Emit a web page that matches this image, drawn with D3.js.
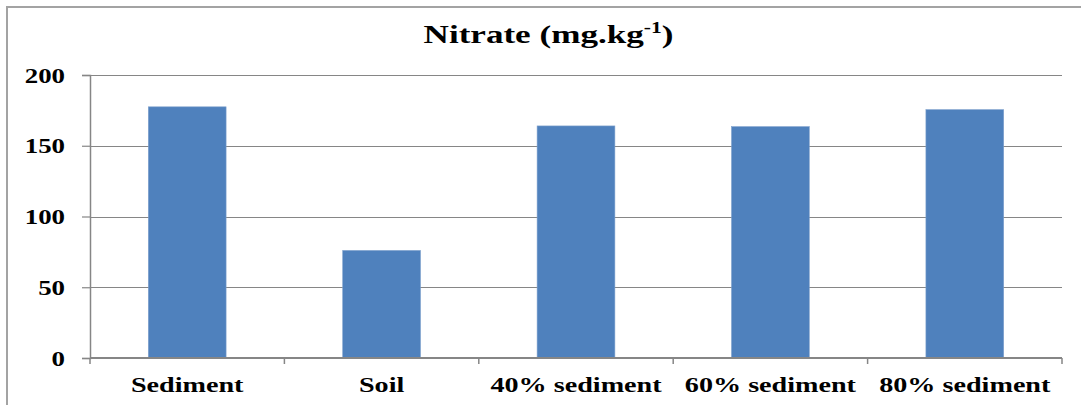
<!DOCTYPE html>
<html>
<head>
<meta charset="utf-8">
<script src="https://cdn.jsdelivr.net/npm/d3@7"></script>
<style>
  body { margin: 0; background: #fff; }
  svg { display: block; }
  text { font-family: "Liberation Serif", "Times New Roman", serif; font-weight: bold; fill: #000; }
</style>
</head>
<body>
<svg id="chart" width="1081" height="405"></svg>
<script>
// Nitrate content per substrate
const categories = ["Sediment", "Soil", "40% sediment", "60% sediment", "80% sediment"];
const nitrate = [177.5, 76, 164, 163.5, 175.5];
const yTicks = [0, 50, 100, 150, 200];
const titleText = "Nitrate (mg.kg";
const titleSup = "-1";
const titleEnd = ")";

const W = 1081, H = 405;
const frame = { left: 7, top: 7, right: 1090 };
const plot = { left: 90, right: 1062, top: 75, bottom: 358 };
const labelStretch = 1.28;   // horizontal widening of axis text
const titleStretch = 1.35;   // horizontal widening of title text
const gridColor = "#868686";

const svg = d3.select("#chart");

// chart frame (top and left edges)
svg.append("path")
  .attr("d", `M${frame.left},${H} V${frame.top} H${W}`)
  .attr("fill", "none")
  .attr("stroke", "#a3a3a3")
  .attr("stroke-width", 2);

const x = d3.scaleBand()
  .domain(categories)
  .range([plot.left, plot.right])
  .paddingInner(0.6)
  .paddingOuter(0.3);

const y = d3.scaleLinear()
  .domain([0, 200])
  .range([plot.bottom, plot.top]);

// horizontal gridlines
svg.append("g")
  .selectAll("line")
  .data(yTicks.filter(d => d > 0))
  .join("line")
  .attr("x1", plot.left).attr("x2", plot.right)
  .attr("y1", d => Math.round(y(d)) + 0.5).attr("y2", d => Math.round(y(d)) + 0.5)
  .attr("stroke", gridColor)
  .attr("stroke-width", 1.2);

// bars
svg.append("g")
  .selectAll("rect")
  .data(nitrate)
  .join("rect")
  .attr("x", (d, i) => x(categories[i]))
  .attr("width", x.bandwidth())
  .attr("y", d => y(d))
  .attr("height", d => y(0) - y(d))
  .attr("fill", "#4f81bd")
  .attr("stroke", "#7c9fcc")
  .attr("stroke-width", 0.6);

// y axis
const yAxis = svg.append("g")
  .attr("transform", `translate(${plot.left},0)`)
  .call(d3.axisLeft(y).tickValues(yTicks).tickSize(8).tickPadding(0).tickFormat(d3.format("d")));
yAxis.select(".domain").attr("stroke", gridColor).attr("stroke-width", 1.5);
yAxis.selectAll(".tick line").attr("stroke", gridColor).attr("stroke-width", 1.2);
yAxis.selectAll(".tick text")
  .attr("font-family", null)
  .attr("font-size", null)
  .style("font-size", "21px")
  .attr("x", -25 / labelStretch)
  .attr("dy", "0.34em")
  .attr("transform", `scale(${labelStretch},1)`);

// x axis baseline and category dividers
const xAxis = svg.append("g");
xAxis.append("line")
  .attr("x1", plot.left).attr("x2", plot.right)
  .attr("y1", plot.bottom).attr("y2", plot.bottom)
  .attr("stroke", gridColor).attr("stroke-width", 2);
const bounds = categories.map(c => x(c) - (x.step() - x.bandwidth()) / 2);
bounds[0] = plot.left;
bounds.push(plot.right);
xAxis.selectAll("line.div")
  .data(bounds)
  .join("line")
  .attr("class", "div")
  .attr("x1", d => d).attr("x2", d => d)
  .attr("y1", plot.bottom).attr("y2", plot.bottom + 6)
  .attr("stroke", gridColor).attr("stroke-width", 1.5);

xAxis.selectAll("text")
  .data(categories)
  .join("text")
  .attr("text-anchor", "middle")
  .style("font-size", "22px")
  .attr("transform", d => `translate(${x(d) + x.bandwidth() / 2},392) scale(${labelStretch},1)`)
  .text(d => d);

// title
const cx = (frame.left + frame.right) / 2;
const title = svg.append("text")
  .attr("text-anchor", "middle")
  .style("font-size", "26px")
  .attr("transform", `translate(${cx},43) scale(${titleStretch},1)`);
title.append("tspan").text(titleText);
title.append("tspan").attr("dy", -10).style("font-size", "16px").text(titleSup);
title.append("tspan").attr("dy", 10).text(titleEnd);
</script>
</body>
</html>
